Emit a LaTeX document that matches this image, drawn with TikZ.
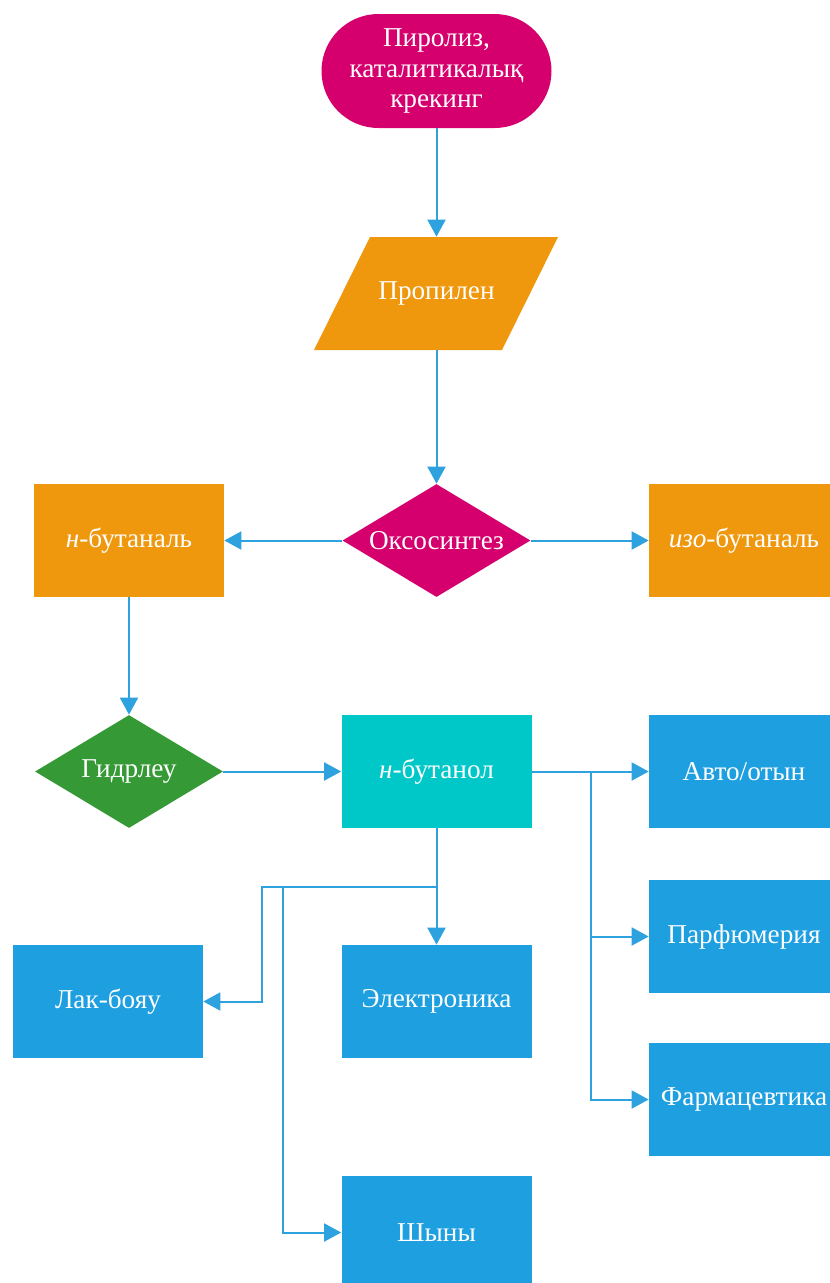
\documentclass[tikz,border=0pt]{standalone}
\usepackage{fontspec}
\setmainfont{Liberation Serif}
\usetikzlibrary{shapes.geometric,arrows.meta}
\definecolor{magentafill}{HTML}{D5006D}
\definecolor{orangefill}{HTML}{EF970D}
\definecolor{greenfill}{HTML}{359A35}
\definecolor{cyanfill}{HTML}{00C8C8}
\definecolor{bluefill}{HTML}{1E9FE0}
\definecolor{linkblue}{HTML}{2DA2DF}

\begin{document}
\begin{tikzpicture}[x=0.2mm,y=-0.2mm,->,>={Triangle[length=3.4mm,width=3.6mm]},
    base/.style={text=white,inner sep=0pt,font=\fontsize{15.5}{17.6}\selectfont,align=center},
    terminal/.style={base,fill=magentafill,rounded corners=11.4mm,minimum width=46mm,minimum height=22.8mm},
    datum/.style={base,minimum width=37.6mm,minimum height=22.6mm},
    decision/.style={base,diamond,aspect=1.66,minimum width=37.6mm,minimum height=22.6mm},
    process/.style={base,fill=bluefill,minimum width=38mm,minimum height=22.6mm},
    link/.style={draw=linkblue,line width=0.4mm}]
  \useasboundingbox (0,0) rectangle (829,1283);
  \node[terminal] (src) at (436.5,71) {Пиролиз,\\каталитикалық\\крекинг};
  \fill[orangefill] (370,237) -- (558,237) -- (502,350) -- (314,350) -- cycle;
  \node[datum] (prop) at (436.5,293.5) {Пропилен};
  \node[decision,fill=magentafill] (oxo) at (436.5,540.5) {Оксосинтез};
  \node[process,fill=orangefill] (nbal) at (129,540.5) {\textit{н}-бутаналь};
  \node[process,fill=orangefill] (isobal) at (744,540.5) {\textit{изо}-бутаналь};
  \node[decision,fill=greenfill] (hyd) at (129,771.5) {Гидрлеу};
  \node[process,fill=cyanfill] (nbol) at (436.5,771.5) {\textit{н}-бутанол};
  \node[process] (auto) at (744,771.5) {Авто/отын};
  \node[process] (parf) at (744,936.5) {Парфюмерия};
  \node[process] (farm) at (744,1099.5) {Фармацевтика};
  \node[process] (lak) at (108,1001.5) {Лак-бояу};
  \node[process] (elec) at (436.5,1001.5) {Электроника};
  \node[process] (shyn) at (436.5,1232.5) {Шыны};
  \coordinate (r) at (591,771.5);
  \coordinate (d) at (436.5,887);
  \coordinate (dl) at (262,887);
  \coordinate (ds) at (283,887);
  \draw[link] (src) -- (prop);
  \draw[link] (prop) -- (oxo);
  \draw[link] (oxo) -- (nbal);
  \draw[link] (oxo) -- (isobal);
  \draw[link] (nbal) -- (hyd);
  \draw[link] (hyd) -- (nbol);
  \draw[link] (nbol) -- (auto);
  \draw[link] (r) |- (parf);
  \draw[link] (r) |- (farm);
  \draw[link] (nbol) -- (elec);
  \draw[link] (d) -- (dl) |- (lak);
  \draw[link] (ds) |- (shyn);
\end{tikzpicture}
\end{document}
